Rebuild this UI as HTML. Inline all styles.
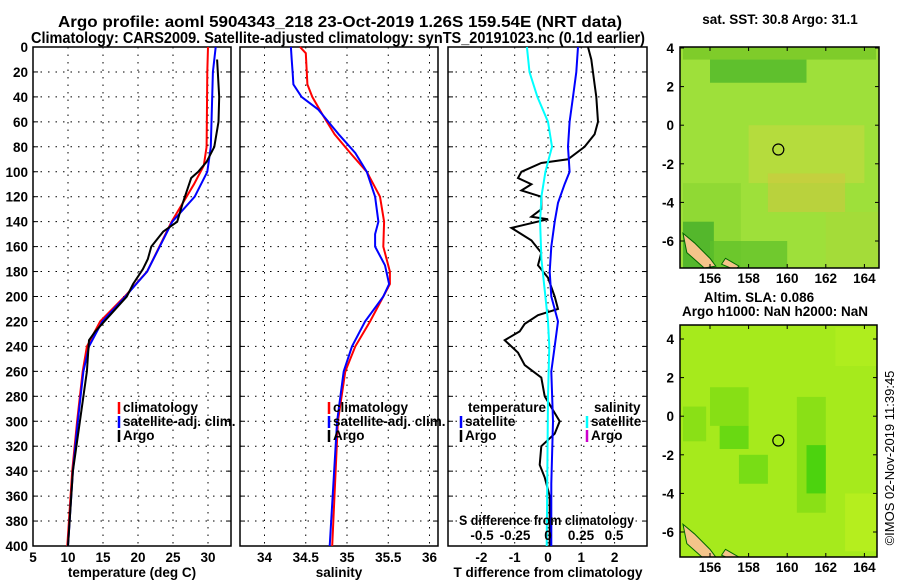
<!DOCTYPE html>
<html><head><meta charset="utf-8"><style>
body{margin:0;background:#fff}
svg{display:block;font-family:"Liberation Sans",Arial,sans-serif;font-weight:bold}
</style></head><body>
<svg id="c" width="900" height="580" viewBox="0 0 900 580"></svg>
<script>
// ---- data ----
const climDepth=[0,20,80,95,110,140,180,200,220,240,260,300,340,400];
const climTemp=[30.0,29.9,29.8,29.4,28.0,24.8,21.3,18.1,14.6,12.7,12.1,11.3,10.6,9.9];
const satDepth=[0,20,80,100,120,140,180,200,220,240,260,300,340,400];
const satTemp=[31.1,30.7,30.4,29.9,28.1,24.9,21.3,18.2,14.9,13.0,12.2,11.4,10.7,10.0];
const argoDepth=[10,40,60,80,92,100,105,125,140,148,160,170,178,190,200,215,228,235,260,300,340,400];
const argoTemp=[31.3,31.6,31.5,30.9,29.8,28.6,27.6,26.4,25.6,23.6,21.9,21.4,20.7,19.3,18.4,16.0,13.9,13.0,12.7,11.7,10.7,10.0];
const salClimDepth=[0,5,30,40,55,70,85,100,120,140,160,180,190,200,220,240,260,300,400];
const salClim=[34.43,34.5,34.52,34.58,34.71,34.85,35.04,35.24,35.4,35.45,35.44,35.52,35.52,35.44,35.28,35.1,34.98,34.89,34.82];
const salSatDepth=[0,10,20,30,40,50,70,85,100,120,140,150,160,175,190,200,220,240,260,300,400];
const salSat=[34.32,34.33,34.34,34.35,34.45,34.65,34.9,35.1,35.24,35.34,35.38,35.34,35.34,35.46,35.51,35.44,35.22,35.06,34.96,34.88,34.79];
const dSatDepth=[0,20,40,60,80,100,110,125,140,160,180,200,220,240,260,300,350,400];
const dSatT=[0.9,0.85,0.75,0.65,0.6,0.65,0.5,0.3,0.2,0.1,0.05,0.1,0.3,0.2,0.1,0.15,0.1,0.1];
const dArgoDepth=[0,10,30,40,60,70,80,90,93,100,105,110,115,120,130,136,138,145,155,165,175,185,200,210,215,222,228,235,245,255,265,280,300,310,320,335,345,360,400];
const dArgoT=[1.2,1.3,1.4,1.45,1.5,1.4,1.1,0.6,-0.2,-0.8,-0.9,-0.5,-0.8,-0.2,-0.2,-0.5,0.0,-1.1,-0.5,-0.2,-0.3,0.0,0.2,0.3,-0.3,-0.7,-0.85,-1.3,-0.9,-0.7,-0.2,-0.1,0.35,0.2,-0.2,-0.25,-0.1,0.05,0.05];
const dSalDepth=[0,20,40,60,80,100,120,140,170,200,220,240,280,400];
const dSatS=[-0.16,-0.14,-0.08,0.0,0.03,-0.02,-0.05,-0.06,-0.05,-0.02,0.0,0.01,0.0,-0.01];
const depthTicks=[0,20,40,60,80,100,120,140,160,180,200,220,240,260,280,300,320,340,360,380,400];
const tempTicks=[5,10,15,20,25,30];
const salTicks=[34,34.5,35,35.5,36];
const dTTicks=[-2,-1,0,1,2];
const dSTicks=[-0.5,-0.25,0,0.25,0.5];
const latTicks=[4,2,0,-2,-4,-6];
const lonTicks=[156,158,160,162,164];

const NS='http://www.w3.org/2000/svg';
const svg=document.getElementById('c');
const FS=13.5;
function el(tag,attrs,parent,text){const e=document.createElementNS(NS,tag);for(const k in attrs)e.setAttribute(k,attrs[k]);if(text!==undefined)e.textContent=text;(parent||svg).appendChild(e);return e;}
const T0=47,T1=546;
const yD=d=>T0+d*(T1-T0)/400;

function panel(name,x0,x1,xs,xticks){
  const g=el('g',{});
  
  
  el('rect',{x:x0,y:T0,width:x1-x0,height:T1-T0,fill:'#fff',stroke:'#000','stroke-width':1.5},g);
  depthTicks.forEach(d=>{ if(d>0&&d<400){el('line',{x1:x0,x2:x1,y1:yD(d),y2:yD(d),stroke:'#000','stroke-dasharray':'1.5,6','stroke-width':1},g);
    el('line',{x1:x0,x2:x0+5,y1:yD(d),y2:yD(d),stroke:'#000'},g);el('line',{x1:x1-5,x2:x1,y1:yD(d),y2:yD(d),stroke:'#000'},g);}});
  xticks.forEach(v=>{const x=xs(v); if(x>x0+1&&x<x1-1){el('line',{x1:x,x2:x,y1:T0,y2:T1,stroke:'#000','stroke-dasharray':'1.5,6'},g);}
    const t=el('text',{x:x,y:562,'font-size':FS,'text-anchor':'middle'},g,v);
    });
  return g;
}
function line(g,name,depths,vals,xs,color,w){
  const p=depths.map((d,i)=>(i?'L':'M')+xs(vals[i]).toFixed(1)+','+yD(d).toFixed(1)).join('');
  const e=el('path',{d:p,fill:'none',stroke:color,'stroke-width':w||2},g);
  
}
function legend(g,x,y,items){
  items.forEach((it,i)=>{const yy=y+i*14;
    el('line',{x1:x,x2:x,y1:yy-10,y2:yy+2,stroke:it[1],'stroke-width':2.5},g);
    const t=el('text',{x:x+4,y:yy,'font-size':FS},g,it[0]);
    });
}
// title
const t1=el('text',{x:58,y:27,'font-size':15.5,textLength:564,lengthAdjust:'spacingAndGlyphs'},svg,'Argo profile: aoml 5904343_218 23-Oct-2019 1.26S 159.54E (NRT data)');

const t2=el('text',{x:31,y:43,'font-size':15.5,textLength:614,lengthAdjust:'spacingAndGlyphs'},svg,'Climatology: CARS2009. Satellite-adjusted climatology: synTS_20191023.nc (0.1d earlier)');

// depth labels
depthTicks.forEach(d=>{const t=el('text',{x:28,y:yD(d)+5,'font-size':FS,'text-anchor':'end'},svg,d);
  });

// panel 1
const xT=v=>33+(v-5)*7;
const g1=panel('temperature-panel',33,231,xT,tempTicks);
line(g1,'temp-climatology',climDepth,climTemp,xT,'#f00');
line(g1,'temp-satellite-adj',satDepth,satTemp,xT,'#00f');
line(g1,'temp-argo',argoDepth,argoTemp,xT,'#000');
legend(g1,119,412,[['climatology','#f00'],['satellite-adj. clim.','#00f'],['Argo','#000']]);
el('text',{x:132,y:577,'font-size':FS,'text-anchor':'middle',},svg,'temperature (deg C)');
// panel 2
const xS=v=>347+(v-35)*82.5;
const g2=panel('salinity-panel',240,438,xS,salTicks);
line(g2,'sal-climatology',salClimDepth,salClim,xS,'#f00');
line(g2,'sal-satellite-adj',salSatDepth,salSat,xS,'#00f');
legend(g2,329,412,[['climatology','#f00'],['satellite-adj. clim.','#00f'],['Argo','#000']]);
el('text',{x:339,y:577,'font-size':FS,'text-anchor':'middle',},svg,'salinity');
// panel 3
const xdT=v=>548+v*33.3;
const xdS=v=>548+v*132;
const g3=panel('difference-panel',448,647,xdT,dTTicks);
line(g3,'dT-argo',dArgoDepth,dArgoT,xdT,'#000');
line(g3,'dS-satellite',dSalDepth,dSatS,xdS,'#0ff');
line(g3,'dT-satellite',dSatDepth,dSatT,xdT,'#00f');
el('text',{x:468,y:412,'font-size':FS},g3,'temperature');
legend(g3,461,426,[['satellite','#00f'],['Argo','#000']]);
el('text',{x:594,y:412,'font-size':FS},g3,'salinity');
legend(g3,587,426,[['satellite','#0ff'],['Argo','#c0c']]);
el('text',{x:459,y:525,'font-size':FS,textLength:175,lengthAdjust:'spacingAndGlyphs'},g3,'S difference from climatology');
dSTicks.forEach(v=>{const t=el('text',{x:xdS(v),y:540,'font-size':FS,'text-anchor':'middle'},g3,v);
  });
el('text',{x:548,y:577,'font-size':FS,'text-anchor':'middle',},svg,'T difference from climatology');

// maps
function map(name,x0,y0,x1,y1,lat4y,base,dark){
  const g=el('g',{});
  
  const lonX=v=>710+(v-156)*19.3, latY=v=>lat4y+(4-v)*19.3;
  const cid='clip'+name;
  const cp=el('clipPath',{id:cid},g);el('rect',{x:x0,y:y0,width:x1-x0,height:y1-y0},cp);
  const inner=el('g',{'clip-path':'url(#'+cid+')'},g);
  el('rect',{x:x0,y:y0,width:x1-x0,height:y1-y0,fill:base},inner);
  dark.forEach(r=>el('rect',{x:lonX(r[0]),y:latY(r[1]),width:r[2]*19.3,height:r[3]*19.3,fill:r[4],opacity:r[5]||1},inner));
  el('path',{d:`M${lonX(154.6)},${latY(-5.6)} L${lonX(155.2)},${latY(-6.1)} L${lonX(156)},${latY(-6.9)} L${lonX(156.3)},${latY(-7.3)} L${lonX(155.7)},${latY(-7.4)} L${lonX(154.8)},${latY(-6.6)} Z`,fill:'#f4c48a',stroke:'#060','stroke-width':1},inner);
  el('path',{d:`M${lonX(156.8)},${latY(-6.9)} L${lonX(157.5)},${latY(-7.3)} L${lonX(157.3)},${latY(-7.5)} L${lonX(156.6)},${latY(-7.2)} Z`,fill:'#f4c48a',stroke:'#060'},inner);
  el('rect',{x:x0,y:y0,width:x1-x0,height:y1-y0,fill:'none',stroke:'#000','stroke-width':1.5},g);
  el('circle',{cx:lonX(159.54),cy:latY(-1.26),r:5.5,fill:'none',stroke:'#000','stroke-width':1.2,},g);
  latTicks.forEach(v=>{const y=latY(v);el('line',{x1:x0,x2:x0+4,y1:y,y2:y,stroke:'#000'},g);el('line',{x1:x1-4,x2:x1,y1:y,y2:y,stroke:'#000'},g);
    el('text',{x:x0-6,y:y+5,'font-size':FS,'text-anchor':'end'},g,v);});
  lonTicks.forEach(v=>{const x=lonX(v);el('line',{x1:x,x2:x,y1:y0,y2:y0+4,stroke:'#000'},g);el('line',{x1:x,x2:x,y1:y1-4,y2:y1,stroke:'#000'},g);
    el('text',{x:x,y:y1+15,'font-size':FS,'text-anchor':'middle'},g,v);});
}
map('sst-map',680,47,879,268,48,'#9ee03a',[
 [154.6,4.6,10,1.2,'#7fcc2a'],[156,3.4,5,1.2,'#4fb82a',0.8],[154.6,-3,3,5,'#8ad632',0.7],
 [158,0,6,3,'#c4d840',0.6],[159,-2.5,4,2,'#d4c440',0.5],[154.6,-5,1.6,3,'#3aa82a',0.7],[162,-4.5,3,3,'#a8d838',0.6],[156,-6,4,1.5,'#5cbf2a',0.7]]);
el('text',{x:780,y:24,'font-size':FS,'text-anchor':'middle',},svg,'sat. SST: 30.8 Argo: 31.1');
map('sla-map',680,325,877,557,339,'#a6ea1c',[
 [156,1.5,2,2,'#7fdc14',0.8],[156.5,-0.5,1.5,1.2,'#5ad410',0.8],[157.5,-2,1.5,1.5,'#5ad410',0.6],[160.5,1,1.5,6,'#7fdc14',0.7],
 [161,-1.5,1,2.5,'#3ccf0c',0.8],[154.6,0.5,1.2,1.8,'#7fdc14',0.7],[162.5,4.6,2.5,2,'#b4ee20',0.7],[163,-4,2,3,'#c0f020',0.6]]);
el('text',{x:759,y:302,'font-size':FS,'text-anchor':'middle',},svg,'Altim. SLA: 0.086');
el('text',{x:775,y:316,'font-size':FS,'text-anchor':'middle',},svg,'Argo h1000: NaN h2000: NaN');
el('text',{x:894,y:458,'font-size':13,'text-anchor':'middle',transform:'rotate(-90 894 458)','font-weight':'normal',},svg,'©IMOS 02-Nov-2019 11:39:45');
</script>
</body></html>
